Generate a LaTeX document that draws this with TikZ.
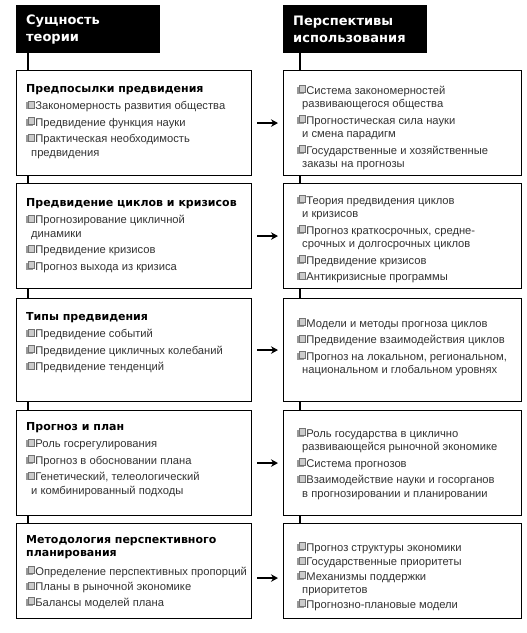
\documentclass[tikz,border=0pt]{standalone}
\usepackage{fontspec}
\setmainfont{Liberation Sans}
\newfontfamily\hdfont{DejaVu Sans}
\usetikzlibrary{arrows.meta,positioning}

% small stacked-pages bullet
\newcommand\ico{\tikz[baseline=-0.5pt,x=1pt,y=1pt]{%
  \fill[gray!80] (0,0) rectangle (6.5,7);
  \fill[gray!40] (1.5,1.5) rectangle (8,8.5);
  \draw[gray!90!black,line width=0.35pt] (1.5,1.5) rectangle (8,8.5);}\hspace{1pt}}
\newcommand\cont{\hspace*{5pt}}
\newcommand\hd[1]{{\hdfont\bfseries\fontsize{11}{14}\selectfont\color{black}#1}}

\begin{document}
\begin{tikzpicture}[x=1pt, y=-1pt,
    header/.style={fill=black, text=white, anchor=north west, minimum width=144pt,
      minimum height=48pt, text width=124pt, inner xsep=10pt, align=left,
      font={\hdfont\bfseries\fontsize{13}{17}\selectfont}},
    leftbox/.style={draw, line width=1.1pt, anchor=north west, minimum width=235pt, inner sep=0pt},
    rightbox/.style={draw, line width=1.1pt, anchor=north west, minimum width=238pt, inner sep=0pt},
    body/.style={anchor=north west, inner sep=0pt, align=left, text=black!80,
      font={\fontsize{11.2}{13.5}\selectfont}},
    link/.style={line width=2pt},
    arrow/.style={-{Stealth[length=7pt,width=7.5pt]}, line width=1.6pt}
  ]
    \useasboundingbox (0,0) rectangle (527,633);

    % headers
    \node[header] (hl) at (16,5) {Сущность\\теории};
    \node[header] (hr) at (283,5) {Перспективы\\использования};

    % boxes
    \node[leftbox, minimum height=105pt] (l1) at (16,70) {};
    \node[leftbox, minimum height=105pt] (l2) at (16,183) {};
    \node[leftbox, minimum height=103pt] (l3) at (16,298) {};
    \node[leftbox, minimum height=105pt] (l4) at (16,410) {};
    \node[leftbox, minimum height=95pt] (l5) at (16,523) {};

    \node[rightbox, minimum height=105pt] (r1) at (283,70) {};
    \node[rightbox, minimum height=105pt] (r2) at (283,183) {};
    \node[rightbox, minimum height=103pt] (r3) at (283,298) {};
    \node[rightbox, minimum height=105pt] (r4) at (283,410) {};
    \node[rightbox, minimum height=95pt] (r5) at (283,523) {};

    % texts, left
    \node[body] (tl1) at ([xshift=10pt,yshift=-14pt]l1.north west)
      {\hd{Предпосылки предвидения}\\[4pt]
       \ico Закономерность развития общества\\[3pt]
       \ico Предвидение функция науки\\[3pt]
       \ico Практическая необходимость\\
       \cont предвидения};
    \node[body] (tl2) at ([xshift=10pt,yshift=-15pt]l2.north west)
      {\hd{Предвидение циклов и кризисов}\\[4pt]
       \ico Прогнозирование цикличной\\
       \cont динамики\\[3pt]
       \ico Предвидение кризисов\\[3pt]
       \ico Прогноз выхода из кризиса};
    \node[body] (tl3) at ([xshift=10pt,yshift=-14pt]l3.north west)
      {\hd{Типы предвидения}\\[4pt]
       \ico Предвидение событий\\[3pt]
       \ico Предвидение цикличных колебаний\\[3pt]
       \ico Предвидение тенденций};
    \node[body] (tl4) at ([xshift=10pt,yshift=-12pt]l4.north west)
      {\hd{Прогноз и план}\\[4pt]
       \ico Роль госрегулирования\\[3pt]
       \ico Прогноз в обосновании плана\\[3pt]
       \ico Генетический, телеологический\\
       \cont и комбинированный подходы};
    \node[body] (tl5) at ([xshift=10pt,yshift=-12pt]l5.north west)
      {\hd{Методология перспективного}\\
       \hd{планирования}\\[5pt]
       \ico Определение перспективных пропорций\\[2pt]
       \ico Планы в рыночной экономике\\[2pt]
       \ico Балансы моделей плана};

    % texts, right
    \node[body] (tr1) at ([xshift=14pt,yshift=-15pt]r1.north west)
      {\ico Система закономерностей\\
       \cont развивающегося общества\\[3pt]
       \ico Прогностическая сила науки\\
       \cont и смена парадигм\\[3pt]
       \ico Государственные и хозяйственные\\
       \cont заказы на прогнозы};
    \node[body] (tr2) at ([xshift=14pt,yshift=-12pt]r2.north west)
      {\ico Теория предвидения циклов\\
       \cont и кризисов\\[3pt]
       \ico Прогноз краткосрочных, средне-\\
       \cont срочных и долгосрочных циклов\\[3pt]
       \ico Предвидение кризисов\\[3pt]
       \ico Антикризисные программы};
    \node[body] (tr3) at ([xshift=14pt,yshift=-20pt]r3.north west)
      {\ico Модели и методы прогноза циклов\\[3pt]
       \ico Предвидение взаимодействия циклов\\[3pt]
       \ico Прогноз на локальном, региональном,\\
       \cont национальном и глобальном уровнях};
    \node[body] (tr4) at ([xshift=14pt,yshift=-18pt]r4.north west)
      {\ico Роль государства в циклично\\
       \cont развивающейся рыночной экономике\\[3pt]
       \ico Система прогнозов\\[3pt]
       \ico Взаимодействие науки и госорганов\\
       \cont в прогнозировании и планировании};
    \node[body] (tr5) at ([xshift=14pt,yshift=-19pt]r5.north west)
      {\ico Прогноз структуры экономики\\[1pt]
       \ico Государственные приоритеты\\[1pt]
       \ico Механизмы поддержки\\
       \cont приоритетов\\[1pt]
       \ico Прогнозно-плановые модели};

    % vertical links
    \draw[link] ([xshift=12pt]hl.south west) -- ([xshift=12pt]l1.north west);
    \draw[link] ([xshift=12pt]l1.south west) -- ([xshift=12pt]l2.north west);
    \draw[link] ([xshift=12pt]l2.south west) -- ([xshift=12pt]l3.north west);
    \draw[link] ([xshift=12pt]l3.south west) -- ([xshift=12pt]l4.north west);
    \draw[link] ([xshift=12pt]l4.south west) -- ([xshift=12pt]l5.north west);
    \draw[link] ([xshift=17pt]hr.south west) -- ([xshift=17pt]r1.north west);
    \draw[link] ([xshift=17pt]r1.south west) -- ([xshift=17pt]r2.north west);
    \draw[link] ([xshift=17pt]r2.south west) -- ([xshift=17pt]r3.north west);
    \draw[link] ([xshift=17pt]r3.south west) -- ([xshift=17pt]r4.north west);
    \draw[link] ([xshift=17pt]r4.south west) -- ([xshift=17pt]r5.north west);

    % arrows
    \draw[arrow] ([xshift=5pt]l1.east) -- ([xshift=-5pt]r1.west);
    \draw[arrow] ([xshift=5pt]l2.east) -- ([xshift=-5pt]r2.west);
    \draw[arrow] ([xshift=5pt]l3.east) -- ([xshift=-5pt]r3.west);
    \draw[arrow] ([xshift=5pt]l4.east) -- ([xshift=-5pt]r4.west);
    \draw[arrow] ([xshift=5pt,yshift=-7pt]l5.east) -- ([xshift=-5pt,yshift=-7pt]r5.west);
  \end{tikzpicture}
\end{document}
